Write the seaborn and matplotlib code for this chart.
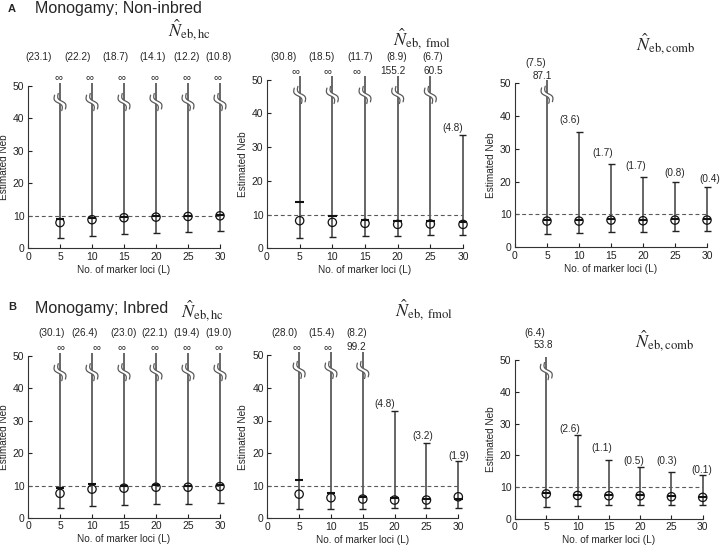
import numpy as np
import matplotlib
matplotlib.use("Agg")
import matplotlib.pyplot as plt
import seaborn as sns

sns.set_style("ticks")
plt.rcParams['font.family'] = ['Liberation Sans', 'DejaVu Sans']
plt.rcParams['mathtext.fontset'] = 'stix'

INF = np.inf
loci = [5, 10, 15, 20, 25, 30]

# ---------------- data ----------------
A_hc_est = [7.9, 8.8, 9.4, 9.6, 9.8, 10.0]
A_hc_mean = [9.1, 9.4, 9.7, 9.9, 10.0, 10.2]
A_hc_low = [3.2, 3.8, 4.3, 4.7, 5.0, 5.2]
A_hc_up = [INF, INF, INF, INF, INF, INF]
A_hc_pct = ["(23.1)", "(22.2)", "(18.7)", "(14.1)", "(12.2)", "(10.8)"]

A_fmol_est = [8.2, 7.7, 7.4, 7.1, 7.2, 7.1]
A_fmol_mean = [13.7, 9.7, 8.4, 8.2, 8.1, 7.7]
A_fmol_low = [3.1, 3.4, 3.6, 3.6, 3.9, 3.9]
A_fmol_up = [INF, INF, INF, 155.2, 60.5, 33.5]
A_fmol_pct = ["(30.8)", "(18.5)", "(11.7)", "(8.9)", "(6.7)", "(4.8)"]

A_comb_est = [8.0, 8.0, 8.3, 8.1, 8.3, 8.3]
A_comb_mean = [8.3, 8.3, 8.5, 8.3, 8.5, 8.5]
A_comb_low = [4.0, 4.5, 4.6, 4.8, 5.0, 5.0]
A_comb_up = [87.1, 35.0, 25.4, 21.5, 19.8, 18.3]
A_comb_pct = ["(7.5)", "(3.6)", "(1.7)", "(1.7)", "(0.8)", "(0.4)"]

B_hc_est = [7.6, 8.9, 9.2, 9.5, 9.5, 9.7]
B_hc_mean = [9.2, 10.4, 9.9, 10.2, 9.9, 10.1]
B_hc_low = [3.0, 3.7, 3.9, 4.3, 4.3, 4.5]
B_hc_up = [INF, INF, INF, INF, INF, INF]
B_hc_pct = ["(30.1)", "(26.4)", "(23.0)", "(22.1)", "(19.4)", "(19.0)"]

B_fmol_est = [7.4, 6.3, 5.9, 5.6, 5.6, 6.6]
B_fmol_mean = [11.7, 7.7, 6.6, 6.3, 5.8, 5.9]
B_fmol_low = [2.8, 2.8, 2.8, 3.1, 3.1, 3.1]
B_fmol_up = [INF, INF, 99.2, 32.9, 23.2, 17.7]
B_fmol_pct = ["(28.0)", "(15.4)", "(8.2)", "(4.8)", "(3.2)", "(1.9)"]

B_comb_est = [7.9, 7.4, 7.3, 7.3, 7.0, 6.8]
B_comb_mean = [8.1, 7.6, 7.5, 7.5, 7.2, 7.0]
B_comb_low = [3.9, 4.1, 4.4, 4.4, 4.4, 4.4]
B_comb_up = [53.8, 26.5, 18.6, 16.2, 14.9, 13.7]
B_comb_pct = ["(6.4)", "(2.6)", "(1.1)", "(0.5)", "(0.3)", "(0.1)"]

# ---------------- layout (positions of labels, in data units) ----------------
W, H = 720, 546
fig = plt.figure(figsize=(7.2, 5.46), dpi=100)

panels = [
    dict(box=(28, 220, 248.3, 85.8), est=A_hc_est, mean=A_hc_mean, low=A_hc_low, up=A_hc_up,
         pct=A_hc_pct, pct_x=[1.7, 7.8, 13.6, 19.4, 24.8, 29.7], pct_y=[58.9] * 6,
         upl_x=[4.7, 9.6, 14.6, 19.7, 24.7, 29.6], upl_y=52.7, brk=45.0,
         title=r'$\hat{N}_{\mathrm{eb,hc}}$', tpos=(168, 30)),
    dict(box=(267, 463, 248.3, 79.8), est=A_fmol_est, mean=A_fmol_mean, low=A_fmol_low, up=A_fmol_up,
         pct=A_fmol_pct, pct_x=[2.5, 8.4, 14.2, 19.9, 25.3, 28.4], pct_y=[56.8] * 5 + [35.7],
         upl_x=[4.3, 9.2, 13.7, 19.2, 25.5, 30], upl_y=52.6, brk=45.5,
         title=r'$\hat{N}_{\mathrm{eb,\ fmol}}$', tpos=(393, 39)),
    dict(box=(515, 707, 247.3, 83.3), est=A_comb_est, mean=A_comb_mean, low=A_comb_low, up=A_comb_up,
         pct=A_comb_pct, pct_x=[3.2, 8.5, 13.7, 18.8, 25.0, 30.5], pct_y=[56.2, 38.8, 28.7, 24.8, 22.7, 20.7],
         upl_x=[4.2, 10, 15, 20, 25, 30], upl_y=52.2, brk=46.5,
         title=r'$\hat{N}_{\mathrm{eb,comb}}$', tpos=(636, 44)),
    dict(box=(28, 220, 518, 356), est=B_hc_est, mean=B_hc_mean, low=B_hc_low, up=B_hc_up,
         pct=B_hc_pct, pct_x=[3.7, 8.9, 14.9, 19.8, 24.8, 29.7], pct_y=[57.0] * 6,
         upl_x=[5.0, 10.7, 14.6, 19.7, 24.8, 29.7], upl_y=52.7, brk=45.0,
         title=r'$\hat{N}_{\mathrm{eb,hc}}$', tpos=(181, 311)),
    dict(box=(267.3, 458.3, 518.3, 355.3), est=B_fmol_est, mean=B_fmol_mean, low=B_fmol_low, up=B_fmol_up,
         pct=B_fmol_pct, pct_x=[2.7, 8.6, 14.0, 18.4, 24.4, 30.0], pct_y=[56.7, 56.7, 56.7, 35.1, 25.2, 19.2],
         upl_x=[4.6, 9.4, 14.0, 20, 25, 30], upl_y=52.5, brk=45.5,
         title=r'$\hat{N}_{\mathrm{eb,\ fmol}}$', tpos=(395, 310)),
    dict(box=(515, 702.7, 519, 360), est=B_comb_est, mean=B_comb_mean, low=B_comb_low, up=B_comb_up,
         pct=B_comb_pct, pct_x=[3.2, 8.8, 13.8, 18.9, 24.2, 29.8], pct_y=[58.6, 28.3, 22.3, 18.1, 18.1, 15.5],
         upl_x=[4.6, 10, 15, 20, 25, 30], upl_y=54.6, brk=46.5,
         title=r'$\hat{N}_{\mathrm{eb,comb}}$', tpos=(635, 341)),
]

LINEC = '#5a5a5a'
FS = 7.2


def draw_break(ax, x0, yc, sx, sy):
    s = np.linspace(-1, 1, 40)
    ux, uy = 0.42, -0.91
    vx, vy = 0.91, 0.42
    L, a, off = 8.5, 2.2, 2.0
    curves = []
    for o in (-off, off):
        px = s * L * ux + a * np.sin(np.pi * s) * vx + o * vx
        py = s * L * uy + a * np.sin(np.pi * s) * vy + o * vy
        curves.append((x0 + px / sx, yc + py / sy))
    polx = np.concatenate([curves[0][0], curves[1][0][::-1]])
    poly = np.concatenate([curves[0][1], curves[1][1][::-1]])
    ax.fill(polx, poly, color='white', zorder=3, clip_on=False, lw=0)
    for cx, cy in curves:
        ax.plot(cx, cy, color=LINEC, lw=0.9, zorder=4, clip_on=False)


for p in panels:
    l, r, b, t = p['box']
    ax = fig.add_axes([l / W, 1 - b / H, (r - l) / W, (b - t) / H])
    ax.set_xlim(0, 30)
    ax.set_ylim(0, 50)
    sx = (r - l) / 30.0
    sy = (b - t) / 50.0
    x = np.array(loci, dtype=float)
    up = np.array(p['up'], dtype=float)
    low = np.array(p['low'])
    broken = up > 50
    top = np.where(broken, 51.0, up)

    ax.axhline(10, color=LINEC, lw=0.8, ls=(0, (3.5, 2.5)), zorder=1)
    ax.vlines(x, low, top, color=LINEC, lw=1.3, zorder=2, clip_on=False)
    cw = 3.5 / sx
    ax.hlines(low, x - cw, x + cw, color='#222222', lw=1.0, zorder=4, clip_on=False)
    ax.hlines(up[~broken], x[~broken] - cw, x[~broken] + cw, color='#222222', lw=1.0, zorder=4, clip_on=False)
    mw = 4.2 / sx
    ax.hlines(p['mean'], x - mw, x + mw, color='#111111', lw=1.5, zorder=4, clip_on=False)
    sns.scatterplot(x=x, y=p['est'], ax=ax, marker='o', s=36, facecolor='none',
                    edgecolor='#111111', linewidth=0.9, zorder=5, clip_on=False, legend=False)
    for xi, bi in zip(x, broken):
        if bi:
            draw_break(ax, xi, p['brk'], sx, sy)

    for txt, px_, py_ in zip(p['pct'], p['pct_x'], p['pct_y']):
        ax.text(px_, py_, txt, fontsize=FS, ha='center', va='center', clip_on=False)
    for i, bi in enumerate(broken):
        if bi:
            lab = '\u221e' if np.isinf(up[i]) else f"{up[i]:.1f}"
            ax.text(p['upl_x'][i], p['upl_y'], lab, fontsize=FS if lab != '\u221e' else 8,
                    ha='center', va='center', clip_on=False)

    sns.despine(ax=ax)
    ax.spines['left'].set_linewidth(0.8)
    ax.spines['bottom'].set_linewidth(0.8)
    ax.spines['left'].set_color('#333333')
    ax.spines['bottom'].set_color('#333333')
    ax.set_xticks(range(0, 31, 5))
    ax.set_yticks(range(0, 51, 10))
    ax.tick_params(direction='in', length=3, width=0.8, labelsize=7.5, pad=2.5, colors='#222222')
    ax.set_xlabel('No. of marker loci (L)', fontsize=FS, labelpad=2)
    ax.set_ylabel('Estimated Neb', fontsize=FS, labelpad=3)
    ax.patch.set_alpha(0)

    tx, ty = p['tpos']
    fig.text(tx / W, 1 - ty / H, p['title'], fontsize=13, ha='left', va='center')

fig.text(12 / W, 1 - 9 / H, 'A', fontsize=8, fontweight='bold', ha='center', va='center')
fig.text(35 / W, 1 - 9 / H, 'Monogamy; Non-inbred', fontsize=11.5, ha='left', va='center')
fig.text(12 / W, 1 - 307 / H, 'B', fontsize=8, fontweight='bold', ha='center', va='center')
fig.text(35 / W, 1 - 308 / H, 'Monogamy; Inbred', fontsize=11.5, ha='left', va='center')

fig.savefig('out.png', dpi=100)
